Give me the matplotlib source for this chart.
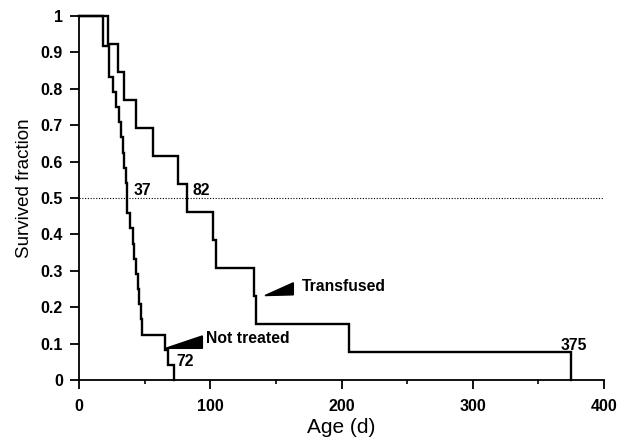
import matplotlib
matplotlib.use("Agg")
import matplotlib.pyplot as plt
from matplotlib.patches import Polygon

# ---- data ----
not_treated_days = [0, 18, 23, 26, 28, 30.5, 32, 33.8, 34.5, 35.6, 36.8, 38.5,
                    40.9, 42, 43.4, 45, 46, 47, 48, 65.5, 67.5, 72]
not_treated_surv = [1, 0.917, 0.833, 0.792, 0.75, 0.708, 0.667, 0.625, 0.583,
                    0.542, 0.458, 0.417, 0.375, 0.333, 0.292, 0.25, 0.208,
                    0.167, 0.125, 0.083, 0.042, 0]

transfused_days = [0, 22, 30, 34.5, 43.5, 56, 75.5, 82, 102, 104, 133, 135, 206, 375]
transfused_surv = [1, 0.923, 0.846, 0.769, 0.692, 0.615, 0.538, 0.462, 0.385,
                   0.308, 0.231, 0.154, 0.077, 0]

x_ticks = [0, 100, 200, 300, 400]
x_minor = [50, 150, 250, 350]
y_ticks = [0, 0.1, 0.2, 0.3, 0.4, 0.5, 0.6, 0.7, 0.8, 0.9, 1]
y_tick_labels = ["0", "0.1", "0.2", "0.3", "0.4", "0.5", "0.6", "0.7", "0.8", "0.9", "1"]

plt.rcParams['font.family'] = ['Liberation Sans', 'DejaVu Sans']

fig = plt.figure(figsize=(6.2, 4.37), dpi=100)
ax = fig.add_axes([79/620, 57/437, 525/620, 364/437])

ax.step(not_treated_days, not_treated_surv, where='post', color='black',
        lw=1.7, clip_on=False, solid_joinstyle='miter')
ax.step(transfused_days, transfused_surv, where='post', color='black',
        lw=1.7, clip_on=False, solid_joinstyle='miter')

ax.axhline(0.5, color='black', lw=0.8, ls=(0, (1, 1.5)))

ax.set_xlim(0, 400)
ax.set_ylim(0, 1)
ax.spines['top'].set_visible(False)
ax.spines['right'].set_visible(False)
for s in ('left', 'bottom'):
    ax.spines[s].set_linewidth(1.3)

ax.set_xticks(x_ticks)
ax.set_xticks(x_minor, minor=True)
ax.set_yticks(y_ticks)
ax.set_yticklabels(y_tick_labels)
ax.tick_params(axis='both', which='major', direction='out', length=6.5,
               width=1.3, labelsize=11.5, pad=5)
ax.tick_params(axis='x', which='major', pad=7)
ax.tick_params(axis='x', which='minor', direction='out', length=3, width=1.2)
for lab in ax.get_xticklabels() + ax.get_yticklabels():
    lab.set_fontweight('bold')

ax.set_xlabel("Age (d)", fontsize=15, labelpad=3)
ax.set_ylabel("Survived fraction", fontsize=13.5,
              family=['Liberation Sans Narrow', 'Liberation Sans'])
ax.yaxis.set_label_coords(-0.087, 0.527)

tk = dict(fontsize=11.3, fontweight='bold', va='center', ha='left')
ax.text(41.4, 0.52, "37", **tk)
ax.text(86.3, 0.52, "82", **tk)
ax.text(74.4, 0.05, "72", **tk)
ax.text(367, 0.096, "375", **tk)
ax.text(169.5, 0.258, "Transfused", **tk)
ax.text(97, 0.113, "Not treated", **tk)

ax.add_patch(Polygon([(141.7, 0.232), (163.3, 0.267), (163.3, 0.234)],
                     closed=True, color='black', clip_on=False))
ax.add_patch(Polygon([(66, 0.087), (94, 0.121), (94, 0.087)],
                     closed=True, color='black', clip_on=False))

fig.savefig("out.png", dpi=100)
